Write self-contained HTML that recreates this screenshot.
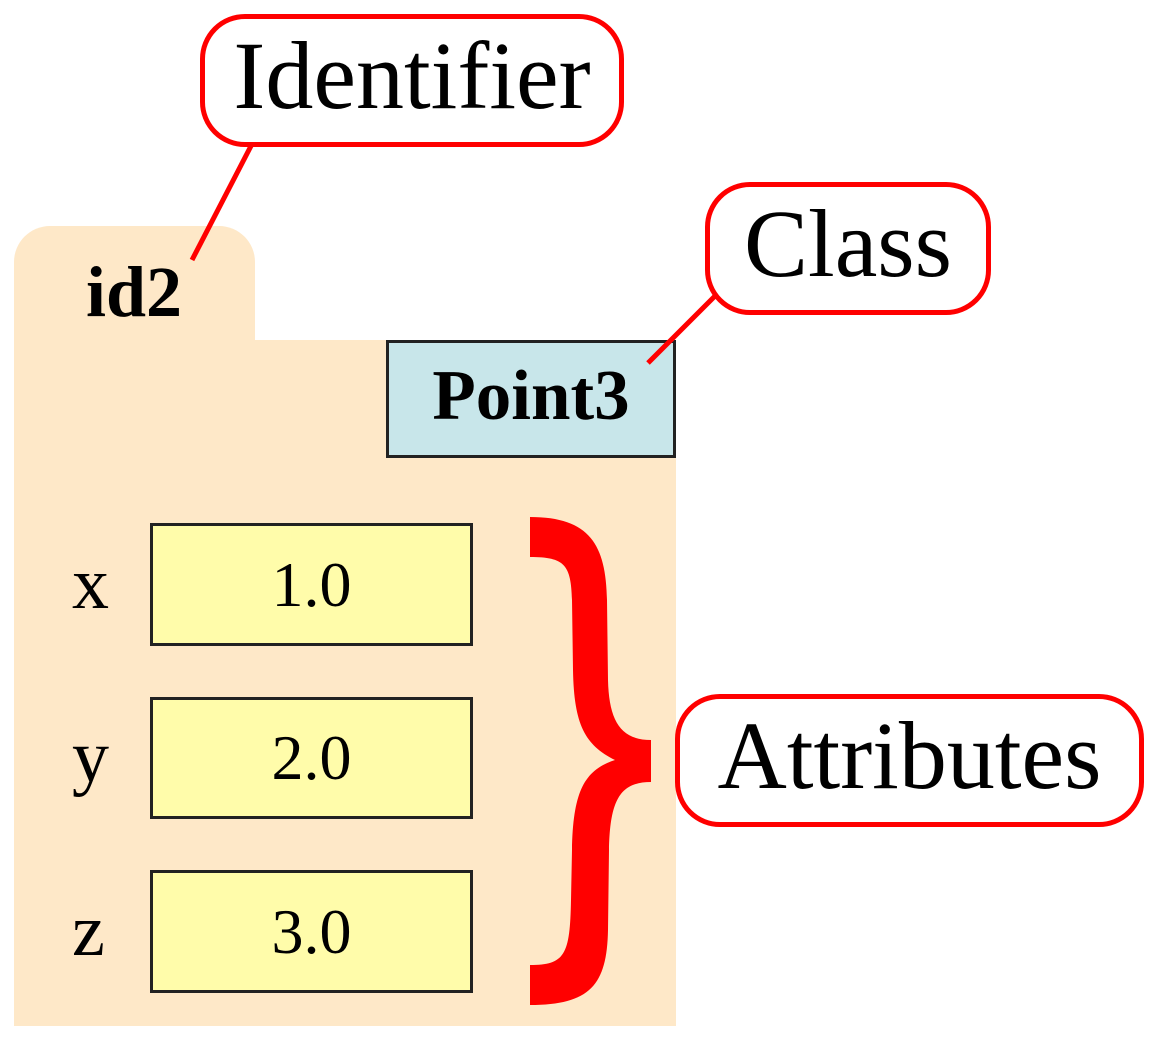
<!DOCTYPE html>
<html><head><style>
html,body{margin:0;padding:0;background:#fff;}
body{width:1160px;height:1040px;position:relative;overflow:hidden;font-family:"Liberation Serif",serif;}
.a{position:absolute;box-sizing:border-box;}
.call{border:5px solid #f00;border-radius:45px;background:#fff;display:flex;align-items:center;justify-content:center;font-size:96px;color:#000;line-height:1;padding-bottom:10px;}
.val{border:3px solid #222;background:#fffcaa;display:flex;align-items:center;justify-content:center;font-size:64px;}
.lab{font-size:74px;line-height:1;}
</style></head><body>
<div class="a" style="left:14px;top:226px;width:241px;height:130px;background:#fee8c8;border-radius:36px 36px 0 0;"></div>
<div class="a" style="left:14px;top:340px;width:662px;height:686px;background:#fee8c8;"></div>
<div class="a" style="left:86px;top:256px;font-size:72px;font-weight:bold;line-height:1;">id2</div>
<div class="a" style="left:386px;top:340px;width:290px;height:118px;background:#c8e6ea;border:3px solid #222;display:flex;align-items:center;justify-content:center;font-size:71px;font-weight:bold;padding-bottom:6px;">Point3</div>
<div class="a lab" style="left:72px;top:547px;">x</div>
<div class="a lab" style="left:72px;top:720px;">y</div>
<div class="a lab" style="left:72px;top:894px;">z</div>
<div class="a val" style="left:150px;top:523px;width:323px;height:123px;">1.0</div>
<div class="a val" style="left:150px;top:697px;width:323px;height:122px;">2.0</div>
<div class="a val" style="left:150px;top:870px;width:323px;height:123px;">3.0</div>
<svg class="a" style="left:0;top:0" width="1160" height="1040">
<line x1="252" y1="144" x2="192" y2="260" stroke="#f00" stroke-width="5"/>
<line x1="718" y1="293" x2="648" y2="363" stroke="#f00" stroke-width="5"/>
<path fill="#f00" d="M530,517 C590,517 606,545 607,600 L608,680 C609,720 620,740 651,740 L651,782 C620,782 610,800 609,850 L608,930 C607,985 590,1005 530,1005 L530,965 C565,965 570,955 571,900 L572,850 C573,790 585,770 615,760 C585,745 574,725 573,670 L572,600 C571,565 565,557 530,557 Z"/>
</svg>
<div class="a call" style="left:200px;top:14px;width:424px;height:133px;">Identifier</div>
<div class="a call" style="left:705px;top:182px;width:286px;height:133px;">Class</div>
<div class="a call" style="left:675px;top:694px;width:469px;height:133px;">Attributes</div>
</body></html>
